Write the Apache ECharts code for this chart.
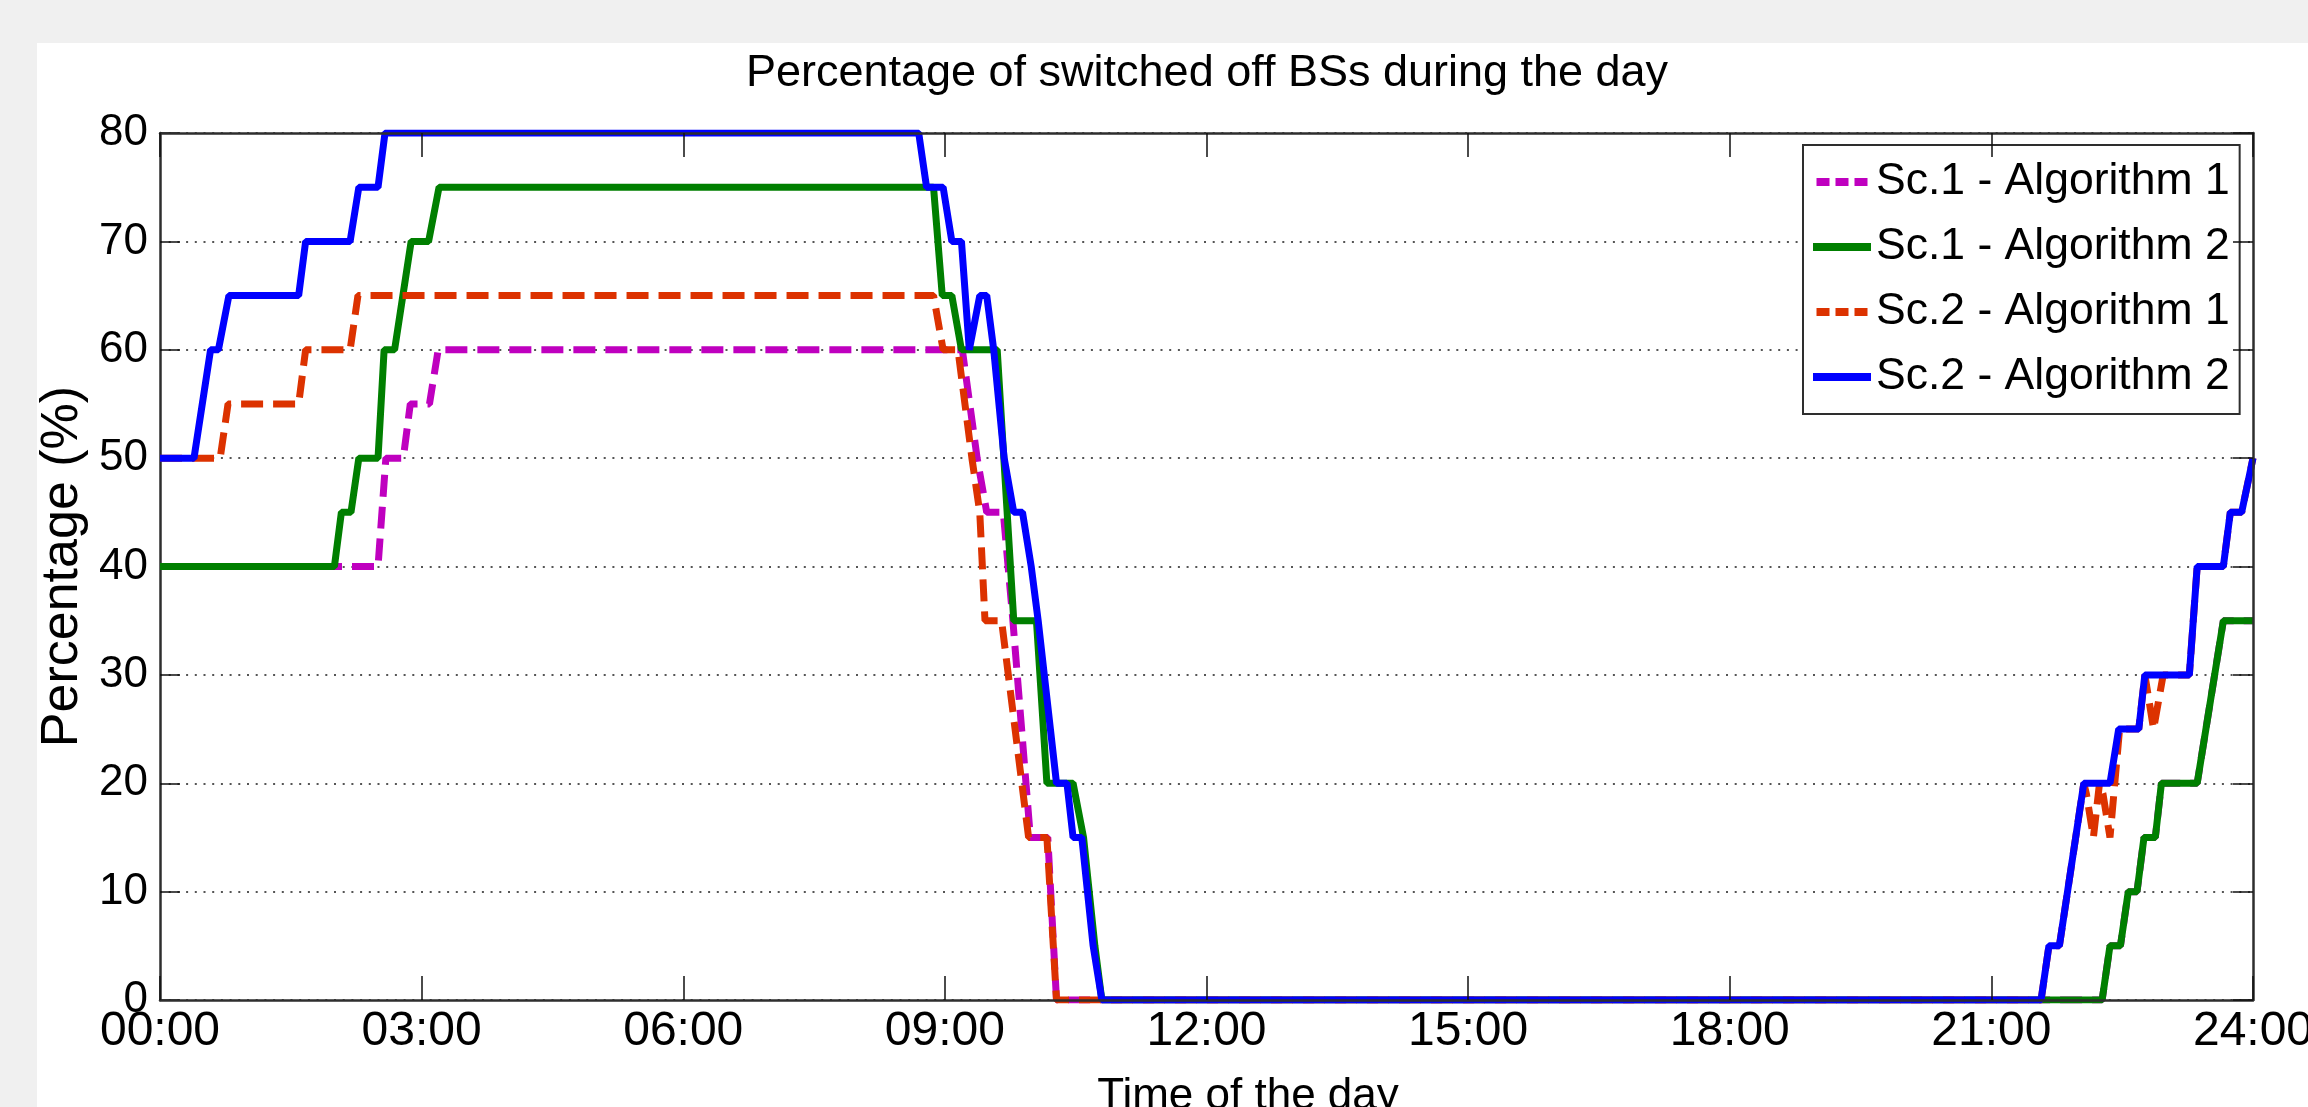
<!DOCTYPE html>
<html><head><meta charset="utf-8">
<script src="https://cdn.jsdelivr.net/npm/echarts@6.0.0/dist/echarts.min.js"></script>
<style>html,body{margin:0;padding:0;background:#f0f0f0;}#c{width:2308px;height:1107px;}</style>
</head><body><div id="c"></div>
<script>
// ---- data (hours of the day, percentage of switched-off BSs) ----
const seriesNames = ['Sc.1 - Algorithm 1', 'Sc.1 - Algorithm 2', 'Sc.2 - Algorithm 1', 'Sc.2 - Algorithm 2'];

const sc1Alg1Hours  = [0, 2.50, 2.59, 2.79, 2.87, 3.09, 3.19, 9.20, 9.37, 9.48, 9.67, 9.78, 9.98, 10.18, 10.28, 22.27, 22.36, 22.48, 22.57, 22.67, 22.75, 22.88, 22.95, 23.36, 23.66, 24];
const sc1Alg1Values = [40, 40, 50, 50, 55, 55, 60, 60, 50, 45, 45, 35, 15, 15, 0, 0, 5, 5, 10, 10, 15, 15, 20, 20, 35, 35];

const sc1Alg2Hours  = [0, 2.00, 2.08, 2.19, 2.28, 2.50, 2.57, 2.69, 2.88, 3.08, 3.20, 8.87, 8.97, 9.08, 9.19, 9.60, 9.79, 10.05, 10.17, 10.47, 10.59, 10.72, 10.80, 22.27, 22.36, 22.48, 22.57, 22.67, 22.75, 22.88, 22.95, 23.36, 23.66, 24];
const sc1Alg2Values = [40, 40, 45, 45, 50, 50, 60, 60, 70, 70, 75, 75, 65, 65, 60, 60, 35, 35, 20, 20, 15, 5, 0, 0, 5, 5, 10, 10, 15, 15, 20, 20, 35, 35];

const sc2Alg1Hours  = [0, 0.69, 0.78, 1.59, 1.67, 2.18, 2.27, 8.87, 8.98, 9.15, 9.31, 9.40, 9.46, 9.65, 9.96, 10.17, 10.28, 21.57, 21.66, 21.78, 22.06, 22.09, 22.17, 22.24, 22.28, 22.36, 22.47, 22.69, 22.76, 22.80, 22.86, 22.97, 23.27, 23.36, 23.66, 23.74, 23.87, 24];
const sc2Alg1Values = [50, 50, 55, 55, 60, 60, 65, 65, 60, 60, 50, 45, 35, 35, 15, 15, 0, 0, 5, 5, 20, 19, 15, 20, 19, 15, 25, 25, 30, 28, 25, 30, 30, 40, 40, 45, 45, 50];

const sc2Alg2Hours  = [0, 0.39, 0.58, 0.67, 0.79, 1.59, 1.67, 2.18, 2.28, 2.50, 2.58, 8.70, 8.79, 8.98, 9.08, 9.19, 9.28, 9.40, 9.48, 9.56, 9.68, 9.79, 9.89, 9.99, 10.07, 10.14, 10.28, 10.40, 10.47, 10.57, 10.70, 10.80, 21.57, 21.66, 21.78, 22.06, 22.36, 22.46, 22.69, 22.76, 23.27, 23.36, 23.66, 23.74, 23.87, 24];
const sc2Alg2Values = [50, 50, 60, 60, 65, 65, 70, 70, 75, 75, 80, 80, 75, 75, 70, 70, 60, 65, 65, 60, 50, 45, 45, 40, 35, 30, 20, 20, 15, 15, 5, 0, 0, 5, 5, 20, 20, 25, 25, 30, 30, 40, 40, 45, 45, 50];

const timeLabels = ['00:00', '03:00', '06:00', '09:00', '12:00', '15:00', '18:00', '21:00', '24:00'];
const yTickValues = [0, 10, 20, 30, 40, 50, 60, 70, 80];

const FONT = "'Liberation Sans', Arial, sans-serif";

function zip(h, v) { return h.map((x, i) => [x, v[i]]); }

const colors = ['#bf00bf', '#007f00', '#dc3200', '#0000ff'];
const dashed = [true, false, true, false];
const allData = [zip(sc1Alg1Hours, sc1Alg1Values), zip(sc1Alg2Hours, sc1Alg2Values), zip(sc2Alg1Hours, sc2Alg1Values), zip(sc2Alg2Hours, sc2Alg2Values)];

const dashIcon = 'path://M0,0H13V8H0Z M19,0H32V8H19Z M38,0H51V8H38Z';

const frameColor = '#2e2e2e';
const chart = echarts.init(document.getElementById('c'), null, { renderer: 'canvas' });
chart.setOption({
  animation: false,
  backgroundColor: '#f0f0f0',
  graphic: [{ type: 'rect', silent: true, z: -10, shape: { x: 37, y: 43, width: 2308 - 37, height: 1107 - 43 }, style: { fill: '#ffffff' } }],
  title: {
    text: 'Percentage of switched off BSs during the day',
    left: 1207, top: 51, textAlign: 'center', padding: 0,
    textStyle: { fontFamily: FONT, fontSize: 45, fontWeight: 'normal', color: '#000' }
  },
  legend: {
    orient: 'vertical', left: 1803, top: 145,
    backgroundColor: '#fff', borderColor: frameColor, borderWidth: 2,
    padding: [9, 10, 9, 10], itemGap: 9, itemWidth: 58, itemHeight: 8,
    textStyle: { fontFamily: FONT, fontSize: 44.5, lineHeight: 56, color: '#000' },
    data: seriesNames.map((n, i) => ({ name: n, icon: dashed[i] ? dashIcon : 'rect', itemStyle: { color: colors[i], borderWidth: 0 } }))
  },
  grid: { left: 160, top: 133, right: 55, bottom: 107, containLabel: false, outerBoundsMode: 'none' },
  xAxis: [{
    type: 'value', min: 0, max: 24, interval: 3, position: 'bottom', z: 10,
    axisLine: { show: true, onZero: false, lineStyle: { color: frameColor, width: 2.5 } },
    axisTick: { show: true, inside: true, length: 24, lineStyle: { color: '#111', width: 1.5 } },
    axisLabel: { margin: 8, fontFamily: FONT, fontSize: 48, color: '#000', formatter: v => timeLabels[Math.round(v / 3)] },
    splitLine: { show: false },
    name: 'Time of the day', nameLocation: 'middle', nameGap: 75,
    nameTextStyle: { fontFamily: FONT, fontSize: 44, color: '#000', padding: [0, 0, 0, 83] }
  }, {
    type: 'value', min: 0, max: 24, interval: 3, position: 'top', z: 10,
    axisLine: { show: true, onZero: false, lineStyle: { color: frameColor, width: 2.5 } },
    axisTick: { show: true, inside: true, length: 24, lineStyle: { color: '#111', width: 1.5 } },
    axisLabel: { show: false }, splitLine: { show: false }
  }],
  yAxis: [{
    type: 'value', min: 0, max: 80, interval: 10, position: 'left',
    axisLine: { show: true, onZero: false, lineStyle: { color: frameColor, width: 2.5 } },
    axisTick: { show: true, inside: true, length: 20, lineStyle: { color: '#111', width: 1.5 } },
    axisLabel: { margin: 12, fontFamily: FONT, fontSize: 44, color: '#000', formatter: v => String(yTickValues[Math.round(v / 10)]) },
    splitLine: { show: true, lineStyle: { color: '#555', width: 2, type: [2, 6.7] } },
    name: 'Percentage (%)', nameLocation: 'middle', nameGap: 70,
    nameTextStyle: { fontFamily: FONT, fontSize: 52, color: '#000' }
  }, {
    type: 'value', min: 0, max: 80, interval: 10, position: 'right', z: 10,
    axisLine: { show: true, onZero: false, lineStyle: { color: frameColor, width: 2.5 } },
    axisTick: { show: true, inside: true, length: 20, lineStyle: { color: '#111', width: 1.5 } },
    axisLabel: { show: false }, splitLine: { show: false }
  }],
  series: seriesNames.map((n, i) => ({
    name: n, type: 'line', xAxisIndex: 0, yAxisIndex: 0,
    data: allData[i], showSymbol: false, symbol: 'none', silent: true,
    lineStyle: { color: colors[i], width: 7, type: dashed[i] ? [22, 10] : 'solid' },
    itemStyle: { color: colors[i] }
  }))
});
</script></body></html>
